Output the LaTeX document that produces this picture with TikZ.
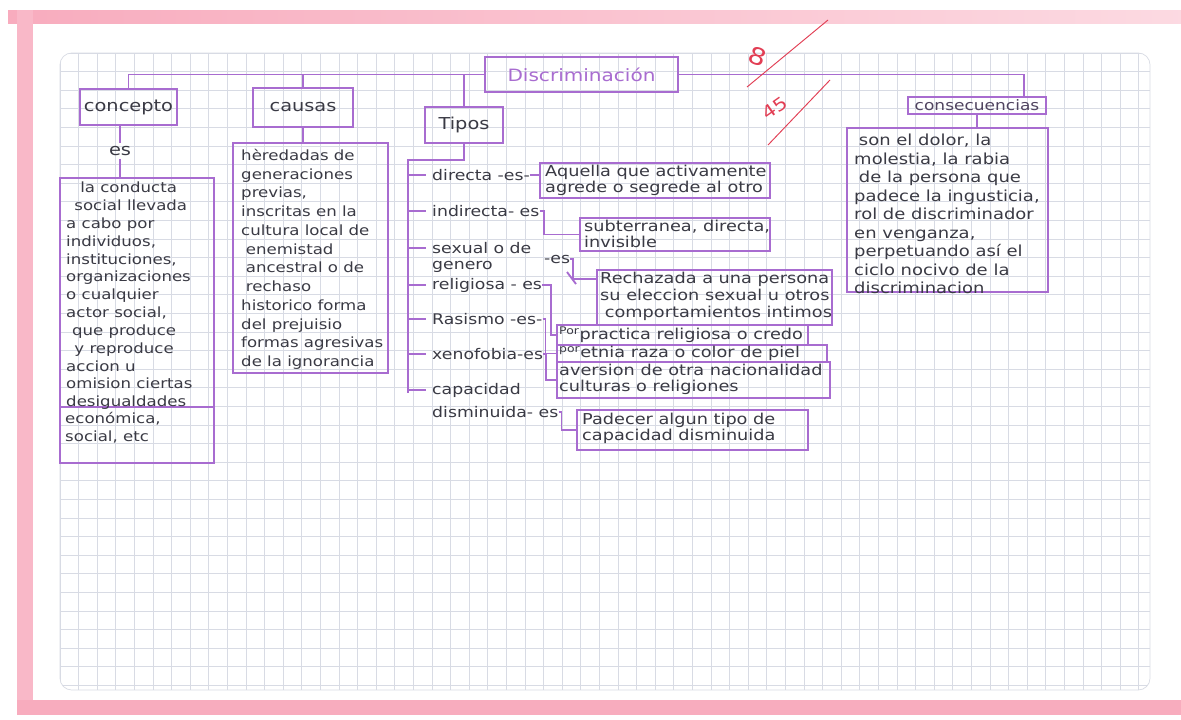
\documentclass[tikz,border=0pt]{standalone}
\usepackage{fontspec}
\setmainfont{DejaVu Sans}[FakeStretch=1.18]
\usetikzlibrary{fit,calc}

\definecolor{lila}{RGB}{168,108,208}
\definecolor{lapiz}{RGB}{58,58,68}
\definecolor{rosa}{RGB}{248,172,190}
\definecolor{rojo}{RGB}{226,62,84}
\definecolor{cuadro}{RGB}{216,219,228}

\newcommand{\mano}{\fontsize{12}{15.2}\selectfont}
\newcommand{\manob}{\fontsize{12}{16}\selectfont}
\newcommand{\manod}{\fontsize{13}{15.8}\selectfont}
\newcommand{\manoc}{\fontsize{12.8}{13.6}\selectfont}
\newcommand{\manor}{\fontsize{12.5}{15}\selectfont}
\newcommand{\manot}{\fontsize{14}{16}\selectfont}

\tikzset{
  caja/.style={draw=lila, line width=1.6pt, inner sep=0pt},
  linea/.style={draw=lila, line width=1.6pt},
  titulo/.style={font=\manot, text=lapiz, inner sep=0pt},
  texto/.style={font=\mano, text=lapiz, align=left, inner sep=0pt, anchor=north west},
  rama/.style={font=\manor, text=lapiz, inner sep=0pt, anchor=west},
  cuadricula/.style={draw=cuadro, line width=0.6pt},
  nota/.style={text=rojo, inner sep=0pt},
}

\begin{document}
\begin{tikzpicture}[x=0.03cm, y=-0.03cm]
  \useasboundingbox (0,0) rectangle (1181,719);
  \fill[white] (0,0) rectangle (1181,719);

  % hoja cuadriculada
  \begin{scope}
    \clip[rounded corners=10pt] (60,53) rectangle (1150,690);
    \foreach \gx in {60,78.6,...,1150} \draw[cuadricula] (\gx,53) -- (\gx,690);
    \foreach \gy in {53,71.6,...,690} \draw[cuadricula] (60,\gy) -- (1150,\gy);
  \end{scope}
  \draw[cuadricula, rounded corners=10pt] (60,53) rectangle (1150,690);

  % margenes rosados
  \shade[left color=rosa, right color=rosa!45] (8,10) rectangle (1181,23);
  \fill[rosa!85] (17,10) rectangle (33,715);
  \fill[rosa] (17,700) rectangle (1181,715);

  % titulo y ramas principales
  \node[caja, fit={(485,57) (678,92)}] (disc) {};
  \node[titulo, text=lila, font=\fontsize{14.5}{16}\selectfont] at (disc) {Discriminación};
  \node[caja, fit={(80,89) (177,125)}] (conc) {};
  \node[titulo] at (conc) {concepto};
  \node[caja, fit={(253,88) (353,127)}] (caus) {};
  \node[titulo] at (caus) {causas};
  \node[caja, fit={(425,107) (503,143)}] (tipos) {};
  \node[titulo] at (tipos) {Tipos};
  \node[caja, fit={(908,97) (1046,114)}] (cons) {};
  \node[titulo, text=lapiz!80!lila, font=\fontsize{12.3}{14}\selectfont] at (cons) {consecuencias};

  \draw[linea] (disc.west) -| (conc.north);
  \draw[linea] (caus.north) -- (caus.north |- disc.west);
  \draw[linea] (tipos.north) -- (tipos.north |- disc.west);
  \draw[linea] (disc.east) -| ($(cons.north)+(47,0)$);

  % concepto
  \node[titulo] (es) at (120,151) {es};
  \node[caja, fit={(60,178) (214,463)}] (cdef) {};
  \draw[linea] (es.north |- conc.south) -- ($(es.north)+(0,-3)$);
  \draw[linea] ($(es.south)+(0,3)$) -- (es.south |- cdef.north);
  \draw[linea] (cdef.west |- 0,407) -- (cdef.east |- 0,407);
  \node[texto] (cdeft) at (66,182) {\hspace*{12pt}la conducta\\
    \hspace*{7pt}social llevada\\a cabo por\\individuos,\\instituciones,\\
    organizaciones\\o cualquier\\actor social,\\\hspace*{5pt}que produce\\
    \hspace*{7pt}y reproduce\\accion u\\omision ciertas\\desigualdades};
  \node[texto] (cdeft2) at (65,412) {económica,\\social, etc};

  % causas
  \node[caja, fit={(233,143) (388,373)}] (causdef) {};
  \draw[linea] (caus.south) -- (caus.south |- causdef.north);
  \node[texto, font=\manob] (causdeft) at (241,149) {hèredadas de\\generaciones\\
    previas,\\inscritas en la\\cultura local de\\\hspace*{4pt}enemistad\\
    \hspace*{4pt}ancestral o de\\\hspace*{4pt}rechaso\\historico forma\\
    del prejuisio\\formas agresivas\\de la ignorancia};

  % consecuencias
  \node[caja, fit={(847,128) (1048,292)}] (consdef) {};
  \draw[linea] (cons.south) -- (cons.south |- consdef.north);
  \node[texto, font=\manod] (consdeft) at (854,134) {\hspace*{4pt}son el dolor, la\\
    molestia, la rabia\\\hspace*{4pt}de la persona que\\padece la ingusticia,\\
    rol de discriminador\\en venganza,\\perpetuando así el\\ciclo nocivo de la\\
    discriminacion};

  % tipos
  \coordinate (tronco) at (408,160);
  \coordinate (pie) at (408,393);
  \draw[linea] (tipos.south) |- (tronco) -- (pie);
  \node[rama] (tdir) at (432,175) {directa -es-};
  \node[rama] (tind) at (432,211) {indirecta- es};
  \node[rama] (tsex) at (432,248) {sexual o de};
  \node[rama] (tsex2) at (432,267) {genero};
  \node[rama] (tsexes) at (544,259) {-es};
  \node[rama] (trel) at (432,285) {religiosa - es};
  \node[rama] (tras) at (432,319) {Rasismo -es-};
  \node[rama] (txen) at (432,354) {xenofobia-es};
  \node[rama] (tcap) at (432,390) {capacidad};
  \node[rama] (tcap2) at (432,412) {disminuida- es};
  \foreach \t in {tdir,tind,tsex,trel,tras,txen,tcap}
    \draw[linea] (tronco |- \t.west) -- ($(\t.west)+(-6,0)$);

  % definiciones de los tipos
  \node[caja, fit={(540,163) (770,198)}] (defa) {};
  \node[texto, font=\manoc] at (545,165) {Aquella que activamente\\agrede o segrede al otro};
  \node[caja, fit={(580,218) (770,251)}] (defb) {};
  \node[texto, font=\manoc] at (584,220) {subterranea, directa,\\invisible};
  \node[caja, fit={(597,270) (832,325)}] (defc) {};
  \node[texto, font=\fontsize{12.8}{14.6}\selectfont] at (600,272) {Rechazada a una persona\\
    su eleccion sexual u otros\\\hspace*{4pt}comportamientos intimos};
  \node[caja, fit={(557,325) (808,345)}] (defd) {};
  \node[texto, font=\manoc] at (559,327) {\textsuperscript{Por}practica religiosa o credo};
  \node[caja, fit={(557,345) (827,362)}] (defe) {};
  \node[texto, font=\manoc] at (559,346) {\textsuperscript{por}etnia raza o color de piel};
  \node[caja, fit={(557,362) (830,398)}] (deff) {};
  \node[texto, font=\manoc] at (559,364) {aversion de otra nacionalidad\\culturas o religiones};
  \node[caja, fit={(577,410) (808,450)}] (defg) {};
  \node[texto, font=\manoc] at (582,413) {Padecer algun tipo de\\capacidad disminuida};

  \draw[linea] (tdir.east) -- (defa.west |- tdir.east);
  \draw[linea] (tind.east) -- ++(4,0) |- (defb.west);
  \draw[linea] (tsexes.east) -- ++(3,0) |- ($(defc.north west)+(0,10)$);
  \draw[linea] (567,272) -- (576,284);
  \draw[linea] (trel.east) -| ($(defd.west)+(-5,0)$) -- (defd.west);
  \draw[linea] (tras.east) -- ++(3,0) |- (defe.west);
  \draw[linea] (txen.east) -- ++(3,0) |- (deff.west);
  \draw[linea] (tcap2.east) -- ++(3,0) |- (defg.west);

  % nota en rojo
  \node[nota, rotate=-20, font=\fontsize{20}{20}\selectfont] (ocho) at (758,56) {8};
  \node[nota, rotate=35, font=\fontsize{15}{15}\selectfont] (nota45) at (775,108) {45};
  \draw[rojo, line width=0.8pt] (747,87) -- (828,20);
  \draw[rojo, line width=0.8pt] (768,145) -- (830,80);
\end{tikzpicture}
\end{document}
